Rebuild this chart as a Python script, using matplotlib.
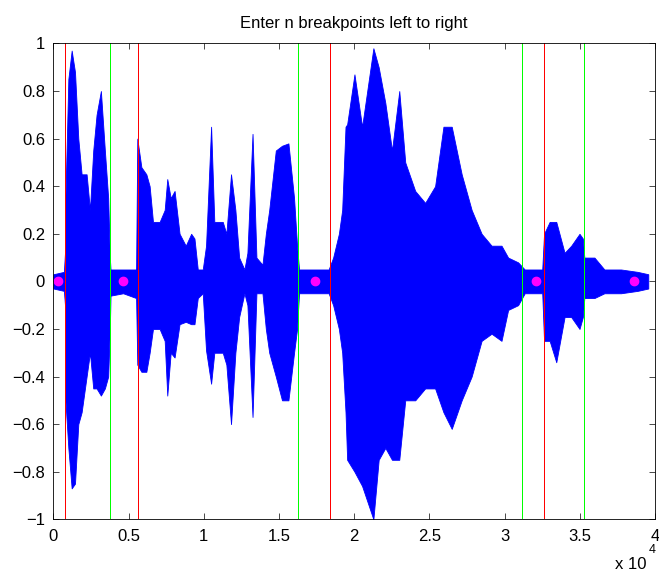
import numpy as np
import matplotlib
matplotlib.use("Agg")
import matplotlib.pyplot as plt

# ===================== DATA =====================
# waveform envelope: sample index, upper value, lower value
env_x = [0, 700, 770, 800, 995, 1216, 1437, 1657, 1878, 2209, 2430, 2650, 2871,
         3158, 3423, 3643, 3754, 3800, 4637, 5500, 5580, 5850, 6181, 6400, 6622,
         7064, 7400, 7572, 7800, 8058, 8389, 8800, 9161, 9380, 9600, 9930, 10150,
         10486, 10700, 11260, 11500, 11810, 12100, 12350, 12700, 12900, 13240,
         13500, 13900, 14125, 14350, 14787, 15200, 15626, 16001, 16200, 16332,
         18300, 18600, 18980, 19200, 19422, 19531, 20016, 20524, 21274, 21627,
         22069, 22510, 22996, 23393, 24055, 24717, 25379, 25931, 26483, 27145,
         27807, 28469, 29131, 29792, 30233, 30895, 31336, 32500, 32620, 32992,
         33433, 33985, 34427, 34978, 35199, 35300, 35971, 36633, 37737, 38840, 39550]
env_hi = [0.03, 0.04, 0.12, 0.35, 0.85, 0.97, 0.88, 0.6, 0.45, 0.45, 0.3, 0.55, 0.7,
          0.8, 0.55, 0.35, 0.1, 0.05, 0.05, 0.05, 0.6, 0.48, 0.45, 0.4, 0.25,
          0.25, 0.3, 0.43, 0.35, 0.38, 0.2, 0.15, 0.2, 0.18, 0.05, 0.05, 0.15,
          0.65, 0.25, 0.25, 0.2, 0.45, 0.3, 0.1, 0.05, 0.12, 0.62,
          0.1, 0.07, 0.2, 0.3, 0.55, 0.57, 0.58, 0.35, 0.15, 0.05,
          0.05, 0.1, 0.2, 0.3, 0.65, 0.66, 0.87, 0.65, 0.98, 0.9,
          0.75, 0.55, 0.8, 0.5, 0.38, 0.33, 0.4, 0.65, 0.65, 0.45,
          0.3, 0.2, 0.15, 0.15, 0.1, 0.08, 0.05, 0.05, 0.2, 0.25,
          0.25, 0.12, 0.15, 0.2, 0.18, 0.1, 0.1, 0.05, 0.05, 0.04, 0.03]
env_lo = [-0.03, -0.04, -0.1, -0.5, -0.7, -0.87, -0.85, -0.6, -0.55, -0.4, -0.3, -0.45, -0.45,
          -0.48, -0.45, -0.4, -0.2, -0.06, -0.05, -0.07, -0.35, -0.38, -0.38, -0.3, -0.2,
          -0.2, -0.25, -0.48, -0.3, -0.32, -0.18, -0.17, -0.18, -0.18, -0.07, -0.05, -0.29,
          -0.43, -0.3, -0.3, -0.35, -0.6, -0.3, -0.15, -0.05, -0.1, -0.57,
          -0.05, -0.05, -0.2, -0.3, -0.4, -0.5, -0.5, -0.3, -0.2, -0.05,
          -0.05, -0.1, -0.2, -0.3, -0.55, -0.75, -0.8, -0.86, -1.0, -0.75,
          -0.7, -0.75, -0.75, -0.5, -0.5, -0.45, -0.45, -0.55, -0.62, -0.5,
          -0.4, -0.25, -0.22, -0.25, -0.12, -0.1, -0.05, -0.05, -0.25, -0.25,
          -0.34, -0.15, -0.15, -0.2, -0.15, -0.07, -0.07, -0.05, -0.05, -0.04, -0.03]

# breakpoints
red_lines = [795, 5600, 18410, 32600]
green_lines = [3770, 16230, 31180, 35290]
dots_x = [330, 4636, 17417, 32053, 38609]
dots_y = [0, 0, 0, 0, 0]

x_ticks = [0, 5000, 10000, 15000, 20000, 25000, 30000, 35000, 40000]
x_tick_labels = ["0", "0.5", "1", "1.5", "2", "2.5", "3", "3.5", "4"]
y_ticks = [-1, -0.8, -0.6, -0.4, -0.2, 0, 0.2, 0.4, 0.6, 0.8, 1]
y_tick_labels = ["\u22121", "\u22120.8", "\u22120.6", "\u22120.4", "\u22120.2", "0",
                 "0.2", "0.4", "0.6", "0.8", "1"]


def main():
    plt.rcParams["font.family"] = ["Liberation Sans", "DejaVu Sans"]
    plt.rcParams["font.size"] = 12

    fig = plt.figure(figsize=(6.59, 5.74), dpi=100)
    ax = fig.add_axes([0.081, 0.0953, 0.913, 0.829])

    # waveform
    ax.fill_between(env_x, env_lo, env_hi, color="blue", lw=0.6, edgecolor="blue")

    # breakpoint lines
    for xv in red_lines:
        ax.plot([xv, xv], [-1, 1], color="red", lw=0.72, snap=True)
    for xv in green_lines:
        ax.plot([xv, xv], [-1, 1], color="#00ff00", lw=0.72, snap=True)

    ax.plot(dots_x, dots_y, "o", color="magenta", markersize=6, markeredgecolor="magenta")

    ax.set_xlim(0, 40000)
    ax.set_ylim(-1, 1)
    ax.set_xticks(x_ticks)
    ax.set_xticklabels(x_tick_labels)
    ax.set_yticks(y_ticks)
    ax.set_yticklabels(y_tick_labels)
    ax.tick_params(direction="in", top=True, right=True, length=4, width=0.5,
                   labelsize=12)
    ax.tick_params(axis="x", pad=7)
    ax.tick_params(axis="y", pad=6)
    for sp in ax.spines.values():
        sp.set_linewidth(0.6)

    ax.set_title("Enter n breakpoints left to right", fontsize=12, pad=11)
    fig.text(615 / 659, 5 / 574, "x 10", fontsize=12, va="baseline")
    fig.text(649 / 659, 21 / 574, "4", fontsize=9, va="baseline")

    fig.savefig("out.png", dpi=100)


if __name__ == "__main__":
    main()
